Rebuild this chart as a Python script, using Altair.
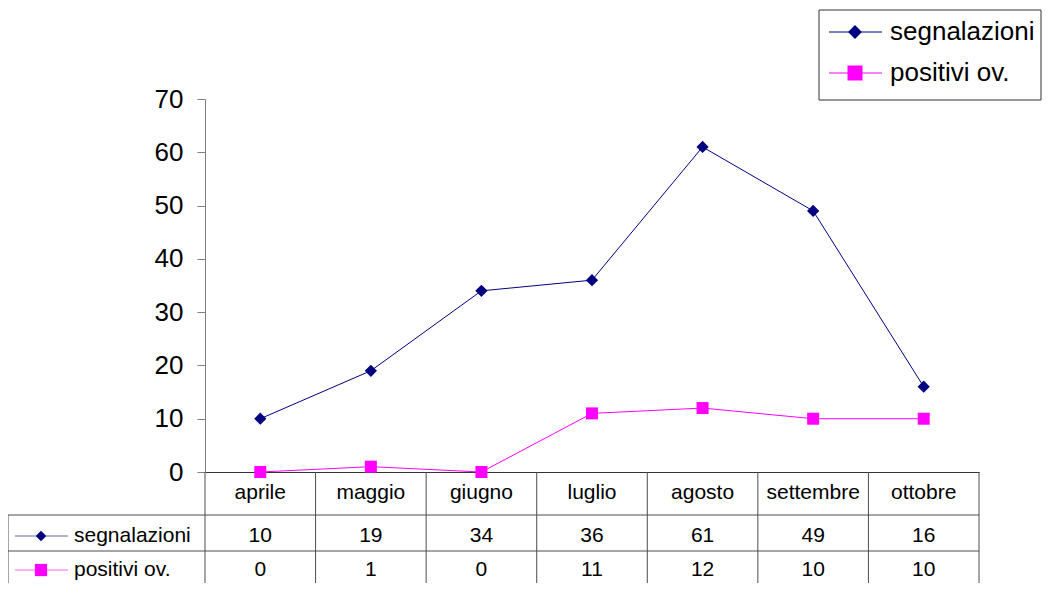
import altair as alt
import pandas as pd

months = ["aprile", "maggio", "giugno", "luglio", "agosto", "settembre", "ottobre"]
segnalazioni = [10, 19, 34, 36, 61, 49, 16]
positivi = [0, 1, 0, 11, 12, 10, 10]
series_names = ["segnalazioni", "positivi ov."]
series_colors = ["#000080", "#FF00FF"]
series_shapes = ["diamond", "square"]
y_ticks = [0, 10, 20, 30, 40, 50, 60, 70]

FONT = "Liberation Sans"
W, H = 774, 373
GRID = "#4d4d4d"

df = pd.DataFrame({"idx": list(range(len(months))), "month": months})
long_df = pd.concat([
    pd.DataFrame({"idx": list(range(len(months))), "month": months,
                  "series": series_names[0], "value": segnalazioni}),
    pd.DataFrame({"idx": list(range(len(months))), "month": months,
                  "series": series_names[1], "value": positivi}),
], ignore_index=True)

xscale = alt.Scale(domain=[-0.5, len(months) - 0.5], nice=False, zero=False)
xaxis = alt.Axis(labels=False, ticks=False, grid=False, title=None,
                 domainColor="#333333", domainWidth=1)


def xq(field):
    return alt.X(field, type="quantitative", scale=xscale, axis=xaxis)


y_enc = alt.Y("value:Q", scale=alt.Scale(domain=[0, 70], nice=False),
              axis=alt.Axis(values=y_ticks, title=None, grid=False, labelFontSize=26,
                            tickSize=8, labelPadding=14, domainColor="#808080",
                            tickColor="#808080", labelColor="black", labelFont=FONT))
color_enc = alt.Color("series:N", scale=alt.Scale(domain=series_names, range=series_colors), legend=None)
shape_enc = alt.Shape("series:N", scale=alt.Scale(domain=series_names, range=series_shapes), legend=None)
size_enc = alt.Size("series:N", scale=alt.Scale(domain=series_names, range=[150, 144]), legend=None)

base = alt.Chart(long_df)
lines = base.mark_line(strokeWidth=1).encode(x=xq("idx"), y=y_enc, color=color_enc)
points = base.mark_point(filled=True, opacity=1).encode(
    x=xq("idx"), y=y_enc, color=color_enc, shape=shape_enc, size=size_enc)

# data table below the plot
TFS = 21
header = alt.Chart(df).mark_text(fontSize=TFS, font=FONT, baseline="middle", color="black").encode(
    x=xq("idx"), y=alt.value(394), text="month:N")
row_y = [437, 471]
rows = []
for name, ry in zip(series_names, row_y):
    rows.append(alt.Chart(long_df).transform_filter(alt.datum.series == name).mark_text(
        fontSize=TFS, font=FONT, baseline="middle", color="black").encode(
        x=xq("idx"), y=alt.value(ry), text="value:Q"))

bounds = pd.DataFrame({"b": [i - 0.5 for i in range(len(months) + 1)]})
vlines = alt.Chart(bounds).mark_rule(color=GRID, strokeWidth=1).encode(
    x=xq("b"), y=alt.value(H), y2=alt.value(500))
one = pd.DataFrame({"a": [0]})
hlines = [alt.Chart(one).mark_rule(color=GRID, strokeWidth=1).encode(
    x=alt.value(-197), x2=alt.value(W), y=alt.value(yy)) for yy in (416, 452)]
left_v = alt.Chart(one).mark_rule(color=GRID, strokeWidth=1).encode(
    x=alt.value(-197), y=alt.value(416), y2=alt.value(500))

keys = pd.DataFrame({
    "series": series_names,
    "color": series_colors,
    "shape": series_shapes,
    "size_leg": [190, 225],
    "size_tab": [110, 150],
    "leg_y": [-67, -26],
    "tab_y": row_y,
})
kb = alt.Chart(keys)
tab_key_line = kb.mark_rule(strokeWidth=1, opacity=0.6).encode(
    x=alt.value(-190), x2=alt.value(-137), y=alt.Y("tab_y:Q", scale=None),
    color=alt.Color("color:N", scale=None))
tab_key_pt = kb.mark_point(filled=True, opacity=1).encode(
    x=alt.value(-164), y=alt.Y("tab_y:Q", scale=None),
    color=alt.Color("color:N", scale=None), shape=alt.Shape("shape:N", scale=None),
    size=alt.Size("size_tab:Q", scale=None))
tab_key_txt = kb.mark_text(fontSize=TFS, font=FONT, align="left", baseline="middle", color="black").encode(
    x=alt.value(-131), y=alt.Y("tab_y:Q", scale=None), text="series:N")

# legend box top right
leg_box = alt.Chart(one).mark_rect(fill="white", stroke="#333333", strokeWidth=1).encode(
    x=alt.value(614), x2=alt.value(836), y=alt.value(-89), y2=alt.value(1))
leg_line = kb.mark_rule(strokeWidth=1).encode(
    x=alt.value(624), x2=alt.value(677), y=alt.Y("leg_y:Q", scale=None),
    color=alt.Color("color:N", scale=None))
leg_pt = kb.mark_point(filled=True, opacity=1).encode(
    x=alt.value(650), y=alt.Y("leg_y:Q", scale=None),
    color=alt.Color("color:N", scale=None), shape=alt.Shape("shape:N", scale=None),
    size=alt.Size("size_leg:Q", scale=None))
leg_txt = kb.mark_text(fontSize=26, font=FONT, align="left", baseline="middle", color="black").encode(
    x=alt.value(685), y=alt.Y("leg_y:Q", scale=None), text="series:N")

chart = alt.layer(
    vlines, *hlines, left_v, header, *rows, tab_key_line, tab_key_pt, tab_key_txt,
    lines, points, leg_box, leg_line, leg_pt, leg_txt,
).resolve_scale(
    color="independent", shape="independent", size="independent"
).properties(
    width=W, height=H,
    autosize=alt.AutoSizeParams(type="none"),
    padding={"left": 197, "top": 91, "right": 63, "bottom": 111},
    background="white",
).configure(font=FONT).configure_view(stroke=None)

chart.save("out.html", embed_options={"renderer": "svg", "actions": False})
